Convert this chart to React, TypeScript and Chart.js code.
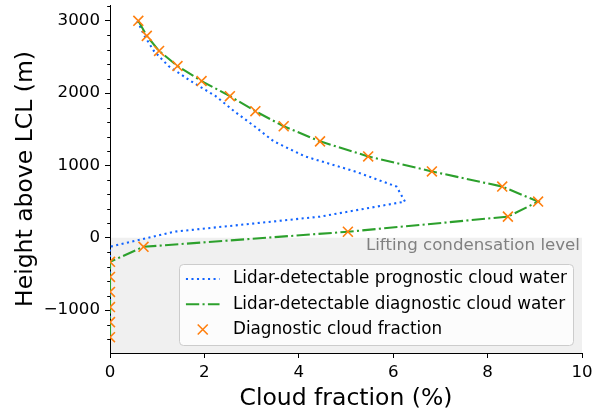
import React, { useEffect, useRef } from "react";
import { Chart, registerables } from "chart.js";

Chart.register(...registerables);

// ---- data ----
const heights = [3000, 2792, 2583, 2375, 2167, 1958, 1750, 1542, 1333, 1125, 917, 708, 500, 292, 83, -125, -333, -542, -750, -958, -1167, -1375];
const prognosticCloudWater = [0.58, 0.73, 0.93, 1.24, 1.71, 2.24, 2.63, 3.06, 3.47, 4.13, 5.19, 6.07, 6.25, 4.45, 1.35, 0, 0, 0, 0, 0, 0, 0];
const diagnosticCloudWater = [0.6, 0.78, 1.04, 1.43, 1.94, 2.54, 3.08, 3.68, 4.45, 5.47, 6.82, 8.31, 9.07, 8.43, 5.04, 0.71, 0, 0, 0, 0, 0, 0];
const diagnosticCloudFraction = [0.6, 0.78, 1.04, 1.43, 1.94, 2.54, 3.08, 3.68, 4.45, 5.47, 6.82, 8.31, 9.07, 8.43, 5.04, 0.71, 0, 0, 0, 0, 0, 0];

const seriesLabels = [
  "Lidar-detectable prognostic cloud water",
  "Lidar-detectable diagnostic cloud water",
  "Diagnostic cloud fraction",
];
const xTicks = [0, 2, 4, 6, 8, 10];
const yTicks = [-1000, 0, 1000, 2000, 3000];
const yMinorTicks = [-1400, -1200, -800, -600, -400, -200, 200, 400, 600, 800, 1200, 1400, 1600, 1800, 2200, 2400, 2600, 2800, 3200];
const xLabel = "Cloud fraction (%)";
const yLabel = "Height above LCL (m)";
const lclLabel = "Lifting condensation level";
const lclHeight = 0;
const xRange = [0, 10];
const yRange = [-1594, 3219];

// ---- style ----
const FONT = "'DejaVu Sans', sans-serif";
const BLUE = "#1264ff";
const GREEN = "#2ca02c";
const ORANGE = "#ff7f0e";
const SHADE = "#f0f0f0";
const TICK_FS = 16.67;
const LEGEND_FS = 16.8;
const LABEL_FS = 23.5;
const LW = 2.08;
const DOT_DASH = [2.08, 3.44];
const DASHDOT = [13.3, 3.3, 2.08, 3.3];

const zeroPad = (s: any) => {
  s.paddingTop = 0;
  s.paddingBottom = 0;
  s.paddingLeft = 0;
  s.paddingRight = 0;
};

const decorPlugin = {
  id: "decor",
  beforeDraw(chart: any) {
    const { ctx, chartArea, scales } = chart;
    const ys = scales.y;
    const yTop = ys.getPixelForValue(lclHeight);
    ctx.save();
    ctx.fillStyle = SHADE;
    ctx.fillRect(chartArea.left, yTop, chartArea.right - chartArea.left, chartArea.bottom - yTop);
    ctx.fillStyle = "#808080";
    ctx.font = `${TICK_FS}px ${FONT}`;
    ctx.textAlign = "right";
    ctx.textBaseline = "alphabetic";
    ctx.fillText(lclLabel, chartArea.right - 2, yTop + 12.5);
    ctx.restore();
  },
  afterDraw(chart: any) {
    const { ctx, chartArea, scales } = chart;
    const ys = scales.y;
    ctx.save();
    // minor y ticks
    ctx.strokeStyle = "#000";
    ctx.lineWidth = 1;
    for (const v of yMinorTicks) {
      const p = Math.round(ys.getPixelForValue(v)) + 0.5;
      ctx.beginPath();
      ctx.moveTo(chartArea.left - 2.8, p);
      ctx.lineTo(chartArea.left, p);
      ctx.stroke();
    }
    // axis titles
    ctx.fillStyle = "#000";
    ctx.font = `${LABEL_FS}px ${FONT}`;
    ctx.textAlign = "center";
    ctx.textBaseline = "alphabetic";
    ctx.fillText(xLabel, (chartArea.left + chartArea.right) / 2, 405);
    ctx.save();
    ctx.translate(31.5, (chartArea.top + chartArea.bottom) / 2);
    ctx.rotate(-Math.PI / 2);
    ctx.fillText(yLabel, 0, 0);
    ctx.restore();

    // legend (lower right, inside axes)
    const fs = LEGEND_FS;
    ctx.font = `${fs}px ${FONT}`;
    const textW = Math.max(...seriesLabels.map((t) => ctx.measureText(t).width));
    const pad = 0.4 * fs, hl = 2 * fs, htp = 0.8 * fs, ls = 0.5 * fs, rowH = fs;
    const w = pad + hl + htp + textW + pad;
    const h = 2 * pad + 3 * rowH + 2 * ls;
    const right = chartArea.right - 0.5 * fs;
    const bottom = chartArea.bottom - 0.5 * fs;
    const left = right - w;
    const top = bottom - h;
    ctx.beginPath();
    ctx.roundRect(Math.round(left) + 0.5, Math.round(top) + 0.5, Math.round(w), Math.round(h), 4);
    ctx.fillStyle = "rgba(255,255,255,0.8)";
    ctx.fill();
    ctx.strokeStyle = "#cccccc";
    ctx.lineWidth = 1;
    ctx.stroke();
    const hx0 = left + pad, hx1 = hx0 + hl;
    const tx = hx1 + htp;
    for (let i = 0; i < 3; i++) {
      const cy = top + pad + rowH / 2 + i * (rowH + ls);
      ctx.save();
      if (i < 2) {
        ctx.strokeStyle = i === 0 ? BLUE : GREEN;
        ctx.lineWidth = LW;
        ctx.lineCap = "butt";
        ctx.setLineDash(i === 0 ? DOT_DASH : DASHDOT);
        ctx.beginPath();
        ctx.moveTo(hx0, cy);
        ctx.lineTo(hx1, cy);
        ctx.stroke();
      } else {
        const cx = (hx0 + hx1) / 2, r = 5;
        ctx.strokeStyle = ORANGE;
        ctx.lineWidth = 1.6;
        ctx.beginPath();
        ctx.moveTo(cx - r, cy - r);
        ctx.lineTo(cx + r, cy + r);
        ctx.moveTo(cx - r, cy + r);
        ctx.lineTo(cx + r, cy - r);
        ctx.stroke();
      }
      ctx.restore();
      ctx.fillStyle = "#000";
      ctx.textAlign = "left";
      ctx.textBaseline = "middle";
      ctx.fillText(seriesLabels[i], tx, cy);
    }
    ctx.restore();
  },
};

const fmt = (v: number) => (v < 0 ? "\u2212" + Math.abs(v) : String(v));

export default function App() {
  const ref = useRef<HTMLCanvasElement | null>(null);
  useEffect(() => {
    document.body.style.margin = "0";
    const canvas = ref.current!;
    const chart = new Chart(canvas, {
      type: "scatter",
      data: {
        datasets: [
          {
            label: seriesLabels[0],
            data: heights.map((hgt, i) => ({ x: prognosticCloudWater[i], y: hgt })),
            showLine: true,
            borderColor: BLUE,
            backgroundColor: BLUE,
            borderWidth: LW,
            borderDash: DOT_DASH,
            borderCapStyle: "butt",
            pointRadius: 0,
            tension: 0,
            clip: 0,
            order: 2,
          } as any,
          {
            label: seriesLabels[1],
            data: heights.map((hgt, i) => ({ x: diagnosticCloudWater[i], y: hgt })),
            showLine: true,
            borderColor: GREEN,
            backgroundColor: GREEN,
            borderWidth: LW,
            borderDash: DASHDOT,
            borderCapStyle: "butt",
            pointRadius: 0,
            tension: 0,
            clip: 0,
            order: 1,
          } as any,
          {
            label: seriesLabels[2],
            data: heights.map((hgt, i) => ({ x: diagnosticCloudFraction[i], y: hgt })),
            showLine: false,
            pointStyle: "crossRot",
            pointRadius: 7,
            borderColor: ORANGE,
            backgroundColor: ORANGE,
            pointBorderWidth: 1.6,
            clip: 0,
            order: 0,
          } as any,
        ],
      },
      options: {
        animation: false,
        responsive: false,
        devicePixelRatio: 1,
        events: [],
        layout: { autoPadding: false, padding: { top: 5, right: 12, bottom: 0, left: 0 } },
        plugins: { legend: { display: false }, tooltip: { enabled: false } },
        scales: {
          x: {
            type: "linear",
            min: xRange[0],
            max: xRange[1],
            afterBuildTicks: (s: any) => {
              s.ticks = xTicks.map((v) => ({ value: v }));
            },
            afterFit: (s: any) => {
              s.height = 62;
              zeroPad(s);
            },
            ticks: {
              color: "#000",
              font: { family: FONT, size: TICK_FS },
              padding: 5,
              maxRotation: 0,
              callback: (v: any) => fmt(Number(v)),
            },
            grid: { drawOnChartArea: false, drawTicks: true, tickLength: 5, tickColor: "#000", tickWidth: 1 },
            border: { display: true, color: "#000", width: 1 },
          },
          y: {
            type: "linear",
            min: yRange[0],
            max: yRange[1],
            afterBuildTicks: (s: any) => {
              s.ticks = yTicks.map((v) => ({ value: v }));
            },
            afterFit: (s: any) => {
              s.width = 110;
              zeroPad(s);
            },
            ticks: {
              color: "#000",
              font: { family: FONT, size: TICK_FS },
              padding: 5,
              callback: (v: any) => fmt(Number(v)),
            },
            grid: { drawOnChartArea: false, drawTicks: true, tickLength: 5, tickColor: "#000", tickWidth: 1 },
            border: { display: true, color: "#000", width: 1 },
          },
        },
      } as any,
      plugins: [decorPlugin],
    });
    return () => chart.destroy();
  }, []);
  return (
    <div style={{ width: 594, height: 415 }}>
      <canvas ref={ref} width={594} height={415} style={{ display: "block", width: 594, height: 415 }} />
    </div>
  );
}
